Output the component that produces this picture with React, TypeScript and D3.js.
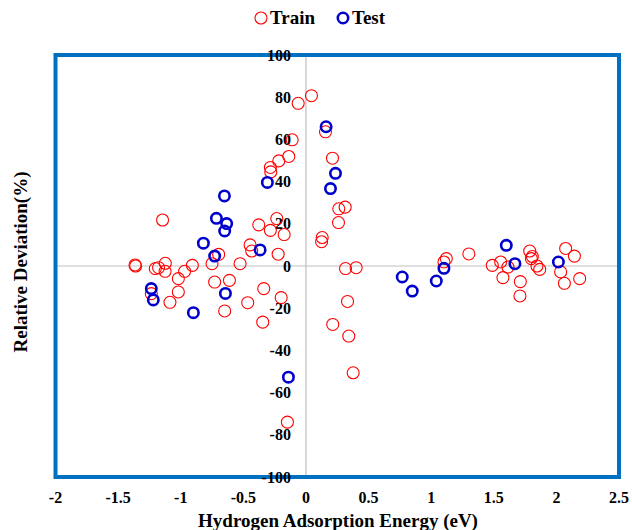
import React from "react";
import * as d3 from "d3";

const trainX = [-1.145, -1.365, -1.36, -1.203, -1.177, -1.123, -1.125, -1.019, -0.969, -0.907, -1.019, -1.086, -1.235, -0.75, -0.697, -0.729, -0.611, -0.649, -0.11, -0.137, -0.217, -0.284, -0.281, -0.233, -0.377, -0.284, -0.174, -0.446, -0.433, -0.222, -0.526, -0.337, -0.198, -0.465, -0.345, 0.044, -0.062, 0.156, 0.212, 0.262, 0.313, 0.26, 0.13, 0.125, 0.316, 0.401, 0.332, 0.214, 0.342, 0.377, -0.148, 1.121, 1.102, 1.301, 1.488, 1.555, 1.613, 1.573, 1.712, 1.709, 1.787, 1.808, 1.8, 1.845, 1.867, 2.074, 2.144, 2.034, 2.064, 2.186];
const trainY = [21.8, 0.5, 0, -1.2, -0.8, 1.3, -2.5, -6, -2.5, 0.3, -12.3, -17.2, -13.1, 1.1, 5.5, -7.6, -6.8, -21.3, 59.8, 51.9, 49.8, 46.7, 44.6, 22.5, 19.5, 16.9, 14.9, 10, 7.1, 5.6, 1.1, -10.7, -15, -17.4, -26.6, 80.7, 77.1, 63.6, 51.1, 27.1, 27.9, 20.6, 13.5, 11.5, -1.2, -0.8, -16.8, -27.7, -33.2, -50.6, -74, 3.5, 1.9, 5.7, 0.3, 1.9, -0.5, -5.5, -7.4, -14.2, 7.1, 4.5, 3.5, 0, -1.6, 8.3, 4.7, -2.8, -8.2, -6];

const testX = [-1.235, -1.219, -0.899, -0.819, -0.729, -0.715, -0.649, -0.643, -0.651, -0.633, -0.366, -0.308, 0.161, 0.236, 0.196, -0.14, 0.769, 0.849, 1.041, 1.102, 1.6, 1.669, 2.016];
const testY = [-10.7, -16.1, -22.1, 10.8, 4.7, 22.6, 16.6, -13, 33.2, 20.1, 7.6, 39.6, 66, 43.9, 36.7, -52.7, -5.2, -11.9, -7.1, -1.1, 9.8, 1.1, 1.9];

const xTicks = [-2, -1.5, -1, -0.5, 0, 0.5, 1, 1.5, 2, 2.5];
const yTicks = [100, 80, 60, 40, 20, 0, -20, -40, -60, -80, -100];

const seriesNames = ["Train", "Test"];
const xTitle = "Hydrogen Adsorption Energy (eV)";
const yTitle = "Relative Deviation(%)";

const W = 632;
const H = 530;
const font = "'Liberation Serif', 'Times New Roman', serif";

export default function App() {
  const x = d3.scaleLinear().domain([-2, 2.5]).range([55.5, 619]);
  const y = d3.scaleLinear().domain([-100, 100]).range([477, 55]);
  const train = trainX.map((v, i) => [v, trainY[i]]);
  const test = testX.map((v, i) => [v, testY[i]]);
  const red = "#FF0000";
  const blue = "#0000CC";

  return (
    <svg width={W} height={H} style={{ position: "absolute", left: 0, top: 0 }} fontFamily={font}>
      <rect x={0} y={0} width={W} height={H} fill="#fff" />
      <line x1={x(-2)} x2={x(2.5)} y1={y(0)} y2={y(0)} stroke="#BFBFBF" strokeWidth={1.2} />
      <line x1={x(0)} x2={x(0)} y1={y(100)} y2={y(-100)} stroke="#BFBFBF" strokeWidth={1.2} />
      <rect x={x(-2)} y={y(100)} width={x(2.5) - x(-2)} height={y(-100) - y(100)} fill="none" stroke="#0070C0" strokeWidth={4} />
      {yTicks.map((t) => (
        <text key={"y" + t} x={x(0) - 15} y={y(t)} textAnchor="end" dominantBaseline="central" fontSize={16} fontWeight="bold" fill="#000">
          {t}
        </text>
      ))}
      {xTicks.map((t) => (
        <text key={"x" + t} x={x(t)} y={503} textAnchor="middle" fontSize={16} fontWeight="bold" fill="#000">
          {t}
        </text>
      ))}
      {train.map((d, i) => (
        <circle key={"tr" + i} cx={x(d[0])} cy={y(d[1])} r={6} fill="none" stroke={red} strokeWidth={1.1} />
      ))}
      {test.map((d, i) => (
        <circle key={"te" + i} cx={x(d[0])} cy={y(d[1])} r={5.2} fill="none" stroke={blue} strokeWidth={2.6} />
      ))}
      <text x={338} y={527} textAnchor="middle" fontSize={19} fontWeight="bold" fill="#000">
        {xTitle}
      </text>
      <text transform={`translate(27,262) rotate(-90)`} textAnchor="middle" fontSize={19} fontWeight="bold" fill="#000">
        {yTitle}
      </text>
      <circle cx={261} cy={18} r={6} fill="none" stroke={red} strokeWidth={1.1} />
      <text x={270} y={24} fontSize={19} fontWeight="bold" fill="#000">
        {seriesNames[0]}
      </text>
      <circle cx={343} cy={18} r={5.2} fill="none" stroke={blue} strokeWidth={2.6} />
      <text x={352} y={24} fontSize={19} fontWeight="bold" fill="#000">
        {seriesNames[1]}
      </text>
    </svg>
  );
}
